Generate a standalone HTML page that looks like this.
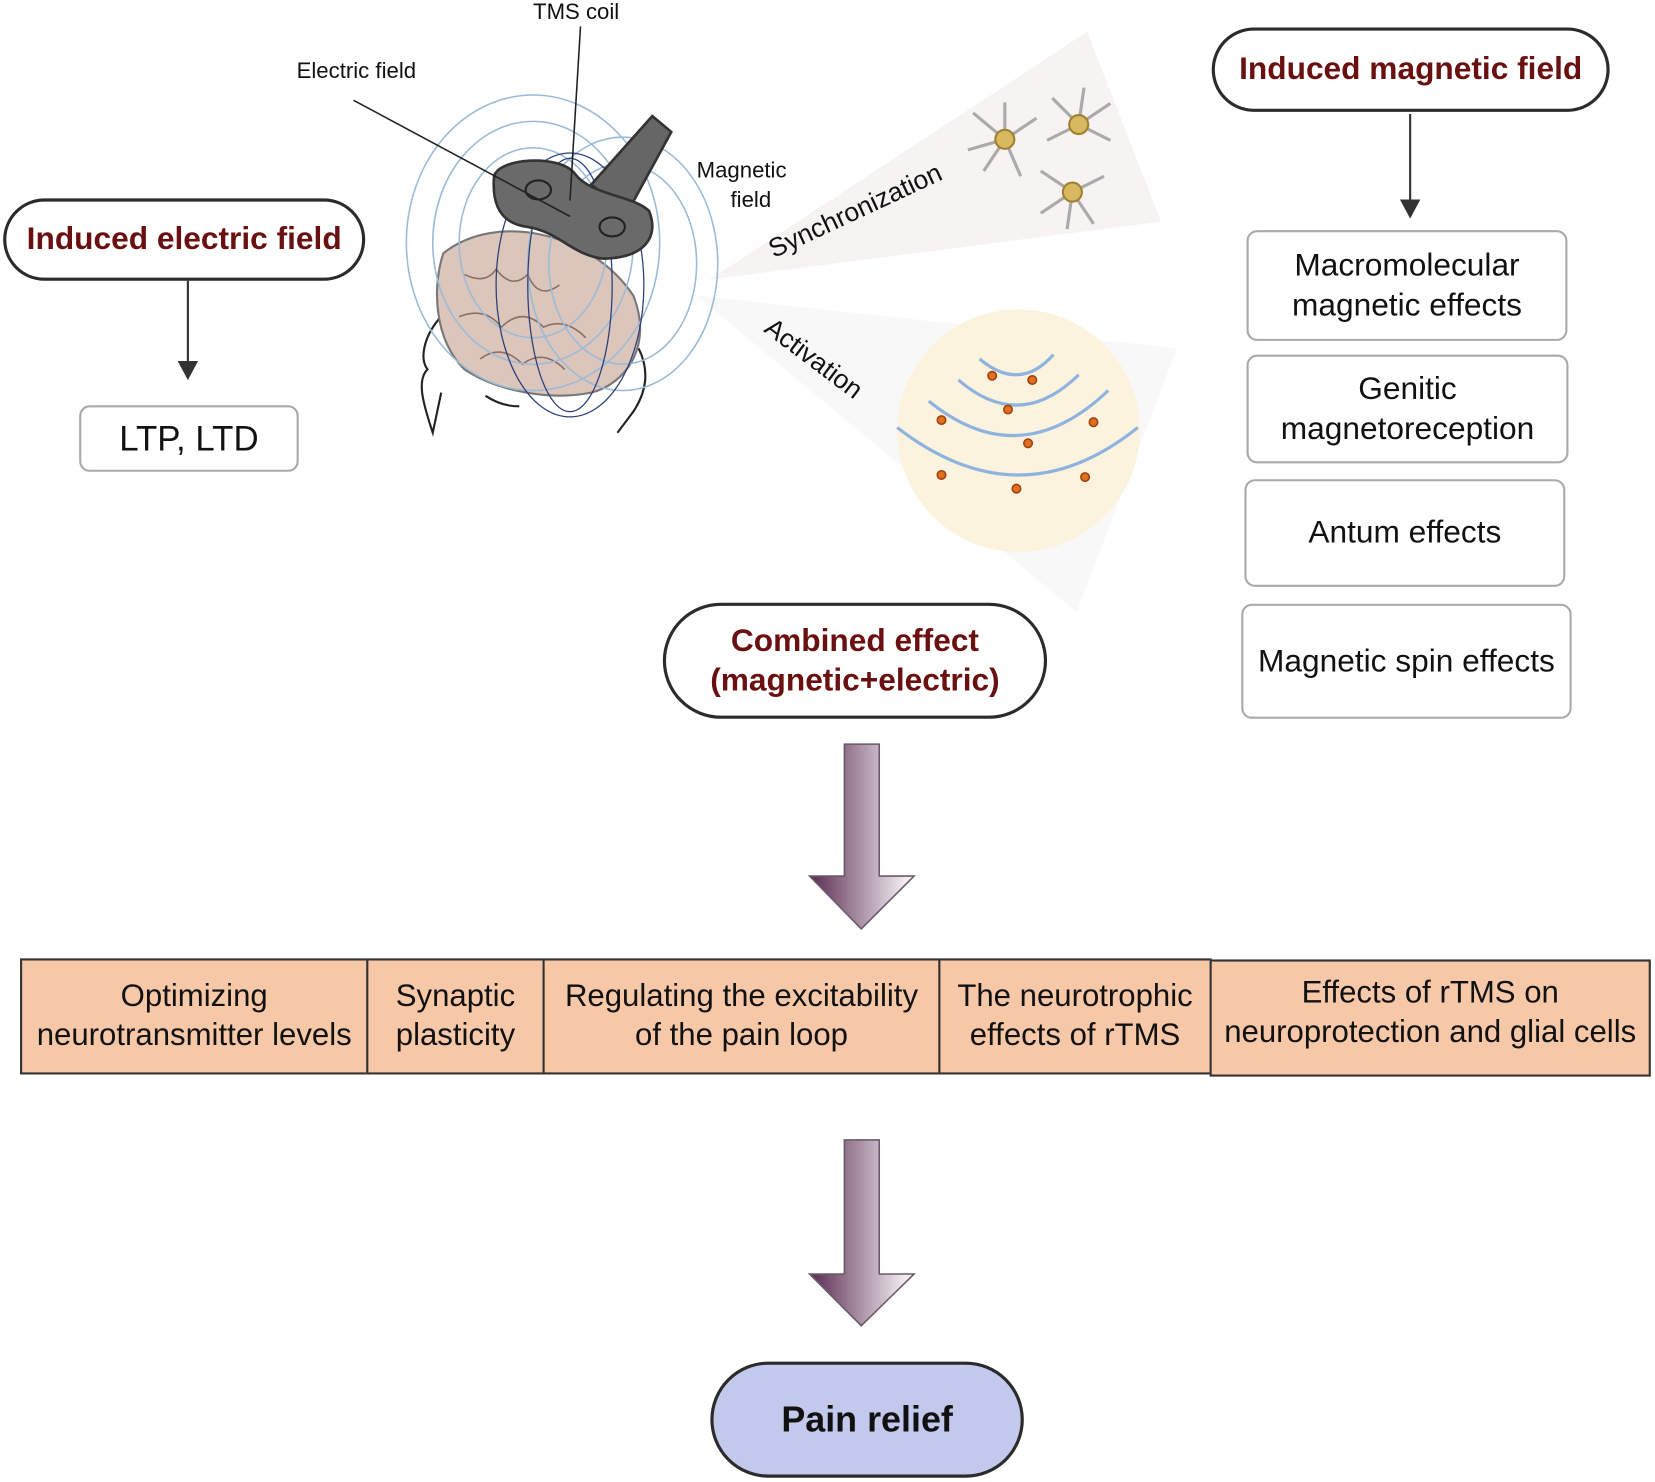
<!DOCTYPE html>
<html><head><meta charset="utf-8"><style>
html,body{margin:0;padding:0;background:#fff;}
#wrap{width:1655px;height:1482px;overflow:hidden;position:relative;}
#s{position:absolute;left:0;top:0;width:1568px;height:1404px;transform:scale(1.0555);transform-origin:0 0;font-family:"Liberation Sans",sans-serif;}
.pill{position:absolute;box-sizing:border-box;border:3px solid #2b2b2b;border-radius:60px;display:flex;align-items:center;justify-content:center;text-align:center;font-weight:bold;color:#6b1010;font-size:30px;background:#fff;}
.box{position:absolute;box-sizing:border-box;border:2.5px solid #a9a9a9;border-radius:10px;display:flex;align-items:center;justify-content:center;text-align:center;font-size:30px;color:#111;line-height:1.25;}
.cell{position:absolute;box-sizing:border-box;border:2px solid #333;background:#f7c8a8;display:flex;align-items:center;justify-content:center;text-align:center;font-size:29.5px;color:#111;line-height:1.25;white-space:nowrap;}
.lbl{position:absolute;font-size:21px;color:#111;}
</style></head><body><div id="wrap"><div id="s">
<svg width="1568" height="1404" style="position:absolute;left:0;top:0">
<defs>
<linearGradient id="g" x1="0" x2="1"><stop offset="0" stop-color="#5a2a50"/><stop offset="1" stop-color="#ffffff"/></linearGradient>
</defs>
<polygon points="672,265 1030,30 1100,210" fill="#f8f3f3"/>
<polygon points="660,280 1115,330 1020,580" fill="#f8f8f8"/>
<circle cx="965" cy="408" r="115" fill="#fcf3df"/>
<g fill="none" stroke="#8fb3df" stroke-width="3">
<path d="M928,340 Q966,372 998,336"/>
<path d="M908,360 Q966,410 1022,355"/>
<path d="M880,380 Q966,450 1050,370"/>
<path d="M850,405 Q966,495 1078,405"/>
</g>
<g fill="#e07020" stroke="#a04010" stroke-width="1.5">
<circle cx="940" cy="356" r="4"/><circle cx="978" cy="360" r="4"/><circle cx="955" cy="388" r="4"/>
<circle cx="892" cy="398" r="4"/><circle cx="1036" cy="400" r="4"/><circle cx="974" cy="420" r="4"/>
<circle cx="892" cy="450" r="4"/><circle cx="1028" cy="452" r="4"/><circle cx="963" cy="463" r="4"/>
</g>
<g stroke="#aaa" stroke-width="3" fill="none">
<path d="M952,132 l-30,-25 M952,132 l-35,10 M952,132 l-20,30 M952,132 l15,35 M952,132 l30,-20 M952,132 l0,-35"/>
<path d="M1022,118 l-25,-25 M1022,118 l-30,15 M1022,118 l30,-20 M1022,118 l30,15 M1022,118 l5,-35"/>
<path d="M1016,182 l-30,-20 M1016,182 l-30,20 M1016,182 l30,-15 M1016,182 l20,30 M1016,182 l-5,35"/>
</g>
<g fill="#d8b860" stroke="#a08030" stroke-width="2">
<circle cx="952" cy="132" r="9"/><circle cx="1022" cy="118" r="9"/><circle cx="1016" cy="182" r="9"/>
</g>
<g fill="none" stroke="#222" stroke-width="2">
<path d="M490,270 C420,270 390,330 405,350 C395,360 400,380 410,410 L418,372"/>
<path d="M460,375 Q475,385 492,385"/>
<path d="M605,330 Q620,360 600,390 L585,410"/>
</g>
<path d="M420,240 C470,200 560,220 600,280 C620,330 590,365 560,372 C520,380 470,370 440,350 C410,320 410,270 420,240Z" fill="#dcc5ba" stroke="#777" stroke-width="2"/>
<g fill="none" stroke="#8a6f66" stroke-width="1.5">
<path d="M440,260 q20,10 30,-5 q15,20 30,5 q10,25 30,10"/><path d="M435,300 q25,-10 40,10 q20,-20 40,0 q20,-10 40,10"/><path d="M455,340 q20,-15 40,5 q20,-15 40,5"/>
</g>
<g fill="none" stroke="#9bbbd8" stroke-width="1.5">
<ellipse cx="505" cy="230" rx="120" ry="140"/><ellipse cx="505" cy="230" rx="95" ry="115"/><ellipse cx="505" cy="230" rx="70" ry="90"/>
<ellipse cx="590" cy="250" rx="90" ry="120"/><ellipse cx="590" cy="250" rx="70" ry="95"/>
</g>
<g fill="none" stroke="#2c3f7a" stroke-width="1.2">
<ellipse cx="540" cy="270" rx="40" ry="120"/><ellipse cx="540" cy="270" rx="70" ry="125"/>
</g>
<path d="M560,175 L618,110 L636,125 L595,200Z" fill="#666" stroke="#333" stroke-width="2.5"/>
<path d="M468,168 C470,150 530,145 545,165 C560,185 600,185 615,200 C625,225 610,245 570,245 C540,240 530,220 500,215 C475,212 466,195 468,168Z" fill="#6a6a6a" stroke="#333" stroke-width="2.5"/>
<ellipse cx="510" cy="180" rx="12" ry="9" fill="none" stroke="#222" stroke-width="2"/>
<ellipse cx="580" cy="215" rx="12" ry="9" fill="none" stroke="#222" stroke-width="2"/>
<g stroke="#222" stroke-width="1.5"><line x1="335" y1="95" x2="540" y2="205"/><line x1="550" y1="25" x2="540" y2="190"/></g>
<g stroke="#333" stroke-width="2" fill="#333">
<line x1="178" y1="266" x2="178" y2="345"/><polygon points="170,343 186,343 178,358"/>
<line x1="1336" y1="108" x2="1336" y2="192"/><polygon points="1328,190 1344,190 1336,205"/>
</g>
<g stroke="#6a5a6a" stroke-width="1.5" fill="url(#g)">
<polygon points="800,705 833,705 833,830 866,830 816,880 767,830 800,830"/>
<polygon points="800,1080 833,1080 833,1207 866,1207 816,1256 767,1207 800,1207"/>
</g>
</svg>
<div class="lbl" style="left:505px;top:0px">TMS coil</div>
<div class="lbl" style="left:281px;top:56px">Electric field</div>
<div class="lbl" style="left:660px;top:148px;text-align:center;line-height:28px">Magnetic<br>&nbsp;&nbsp;&nbsp;field</div>
<div class="lbl" style="left:736px;top:222px;font-size:25px;transform:rotate(-25deg);transform-origin:0 100%">Synchronization</div>
<div class="lbl" style="left:736px;top:296px;font-size:25px;transform:rotate(37deg);transform-origin:0 0">Activation</div>

<div class="pill" style="left:3px;top:188px;width:343px;height:78px">Induced electric field</div>
<div class="box" style="left:75px;top:384px;width:208px;height:63px;font-size:33px">LTP, LTD</div>
<div class="pill" style="left:1148px;top:26px;width:377px;height:80px">Induced magnetic field</div>
<div class="box" style="left:1181px;top:218px;width:304px;height:105px">Macromolecular<br>magnetic effects</div>
<div class="box" style="left:1181px;top:336px;width:305px;height:103px">Genitic<br>magnetoreception</div>
<div class="box" style="left:1179px;top:454px;width:304px;height:102px">Antum effects</div>
<div class="box" style="left:1176px;top:572px;width:313px;height:109px">Magnetic spin effects</div>
<div class="pill" style="left:628px;top:571px;width:364px;height:110px;line-height:1.25">Combined effect<br>(magnetic+electric)</div>

<div class="cell" style="left:19px;top:908px;width:330px;height:110px">Optimizing<br>neurotransmitter levels</div>
<div class="cell" style="left:347px;top:908px;width:169px;height:110px">Synaptic<br>plasticity</div>
<div class="cell" style="left:514px;top:908px;width:377px;height:110px">Regulating the excitability<br>of the pain loop</div>
<div class="cell" style="left:889px;top:908px;width:259px;height:110px">The neurotrophic<br>effects of rTMS</div>
<div class="cell" style="left:1146px;top:909px;width:418px;height:111px;padding-bottom:10px">Effects of rTMS on<br>neuroprotection and glial cells</div>

<div class="pill" style="left:673px;top:1290px;width:297px;height:110px;background:#c3c9ec;color:#111;font-size:34px">Pain relief</div>
</div></div></body></html>
